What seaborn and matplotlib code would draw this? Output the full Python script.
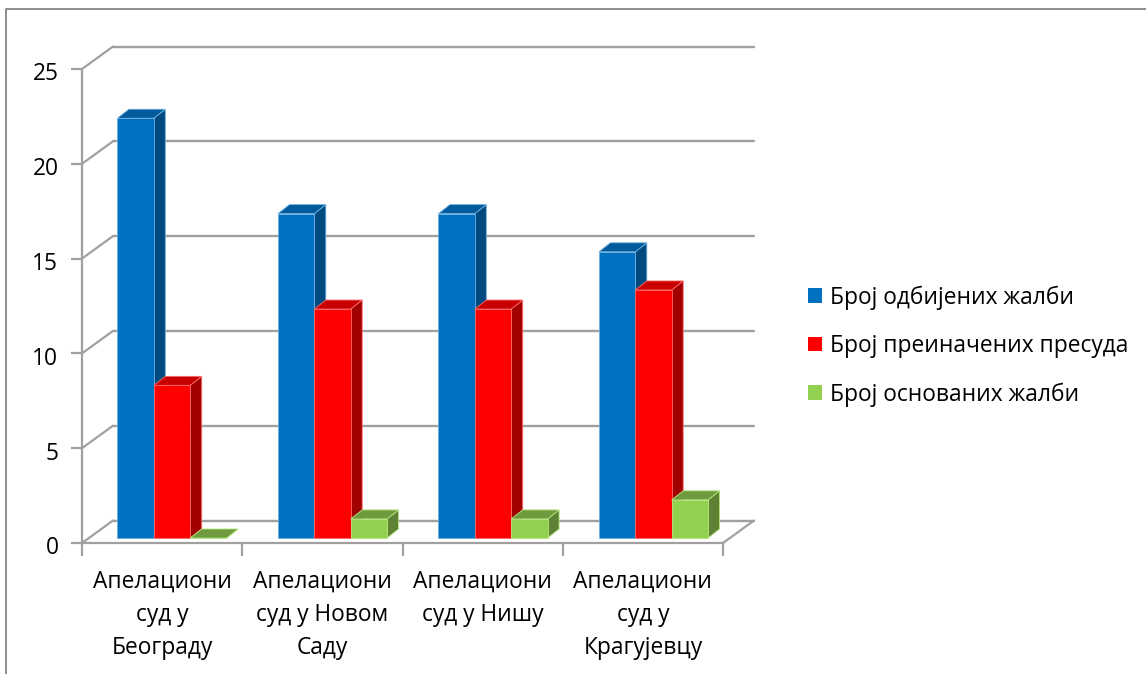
import matplotlib
matplotlib.use('Agg')
import matplotlib.pyplot as plt
import matplotlib.transforms as mtrans
from matplotlib.lines import Line2D
from matplotlib.patches import Polygon, Patch
import pandas as pd
import seaborn as sns

courts = ['Апелациони суд у Београду', 'Апелациони суд у Новом Саду',
          'Апелациони суд у Нишу', 'Апелациони суд у Крагујевцу']
court_labels = ['Апелациони\nсуд у\nБеограду', 'Апелациони\nсуд у Новом\nСаду',
                'Апелациони\nсуд у Нишу', 'Апелациони\nсуд у\nКрагујевцу']
rejected = [22, 17, 17, 15]
modified = [8, 12, 12, 13]
founded = [0, 1, 1, 2]
series_names = ['Број одбијених жалби', 'Број преиначених пресуда', 'Број основаних жалби']
y_ticks = [0, 5, 10, 15, 20, 25]

front_colors = ['#0070C0', '#FF0000', '#92D050']
top_colors = ['#005A9C', '#C80000', '#6F9A3D']
side_colors = ['#004A80', '#A00000', '#5F8136']
edge_colors = ['#6FB0E0', '#FF6A6A', '#B4E67C']
grid_color = '#A0A0A0'

W, H = 1146, 674
sns.set_theme(style='white')
plt.rcParams['font.family'] = ['Open Sans', 'DejaVu Sans']
font_size = 16.4

df = pd.DataFrame({'court': courts * 3,
                   'count': rejected + modified + founded,
                   'series': [s for s in series_names for _ in courts]})


def px_axes(fig, left, right, bottom, top):
    # pixel box, measured from the top of the image
    return fig.add_axes([left / W, 1 - bottom / H, (right - left) / W, (bottom - top) / H])


fig = plt.figure(figsize=(W / 100, H / 100), dpi=100)
fig.add_artist(Line2D([6 / W, 6 / W, 1], [0, 1 - 9 / H, 1 - 9 / H], color='#868686', lw=1.3))

# axis frame and back wall
ax = px_axes(fig, 82, 723, 543, 69)
ax.set_xlim(0, 4)
ax.set_ylim(0, 25)
ax.patch.set_alpha(0)
sns.despine(ax=ax, top=True, right=True)
for side in ['left', 'bottom']:
    ax.spines[side].set_color(grid_color)
    ax.spines[side].set_linewidth(1.6)
ax.set_yticks(y_ticks)
ax.set_xticks(range(5))
ax.set_xticklabels([])
ax.set_xticks([i + 0.5 for i in range(4)], minor=True)
ax.set_xticklabels(court_labels, minor=True, fontsize=font_size, linespacing=1.53, color='black', va='top')
ax.tick_params(axis='y', length=8, width=1.6, color=grid_color, left=True, labelsize=font_size, pad=9, labelcolor='black')
ax.tick_params(axis='x', which='major', length=9, width=1.6, color=grid_color, bottom=True)
ax.tick_params(axis='x', which='minor', length=0, pad=19)
for label in ax.get_yticklabels():
    label.set_transform(label.get_transform() + mtrans.Affine2D().translate(0, -2.5))

back = ax.transData + mtrans.Affine2D().translate(31, 22.5)
for v in y_ticks:
    ax.plot([0, 4], [v, v], color=grid_color, lw=1.7, transform=back, clip_on=False)
    x0, y0 = ax.transData.transform((0, v))
    ax.plot([x0, x0 + 31], [y0, y0 + 22.5], color=grid_color, lw=1.6,
            transform=mtrans.IdentityTransform(), clip_on=False)
x0, y0 = ax.transData.transform((4, 0))
ax.plot([x0, x0 + 31], [y0, y0 + 22.5], color=grid_color, lw=1.6,
        transform=mtrans.IdentityTransform(), clip_on=False)

# bars, their depth faces are built from what seaborn drew
bar_ax = px_axes(fig, 91.75, 733.75, 538, 61)
sns.barplot(data=df, x='court', y='count', hue='series', hue_order=series_names,
            palette=front_colors, width=0.68, gap=0, saturation=1, legend=False, ax=bar_ax)
bar_ax.set_xlim(-0.5, 3.5)
bar_ax.set_ylim(0, 25)
bar_ax.axis('off')

dx, dy = 11.5, 9
for i, container in enumerate(bar_ax.containers):
    for bar in container:
        x_l, y_b = bar_ax.transData.transform((bar.get_x(), bar.get_y()))
        x_r, y_t = bar_ax.transData.transform((bar.get_x() + bar.get_width(), bar.get_y() + bar.get_height()))
        bar.set_edgecolor(edge_colors[i])
        bar.set_linewidth(0.6)
        bar.set_zorder(3 + 2 * i)
        bar.set_clip_on(False)
        side = Polygon([(x_r, y_b), (x_r + dx, y_b + dy), (x_r + dx, y_t + dy), (x_r, y_t)],
                       facecolor=side_colors[i], edgecolor=edge_colors[i], lw=0.6,
                       transform=mtrans.IdentityTransform(), zorder=2 + 2 * i, clip_on=False)
        top = Polygon([(x_l, y_t), (x_r, y_t), (x_r + dx, y_t + dy), (x_l + dx, y_t + dy)],
                      facecolor=top_colors[i], edgecolor=edge_colors[i], lw=0.6,
                      transform=mtrans.IdentityTransform(), zorder=2 + 2 * i, clip_on=False)
        bar_ax.add_patch(side)
        bar_ax.add_patch(top)

handles = [Patch(facecolor=c, edgecolor='none') for c in front_colors]
fig.legend(handles, series_names, loc='center left', bbox_to_anchor=(787 / W, 1 - 346 / H),
           frameon=False, fontsize=font_size, handlelength=0.62, handleheight=0.62,
           handletextpad=0.35, labelspacing=1.07, labelcolor='black')

fig.savefig('out.png', dpi=100, facecolor='white')
